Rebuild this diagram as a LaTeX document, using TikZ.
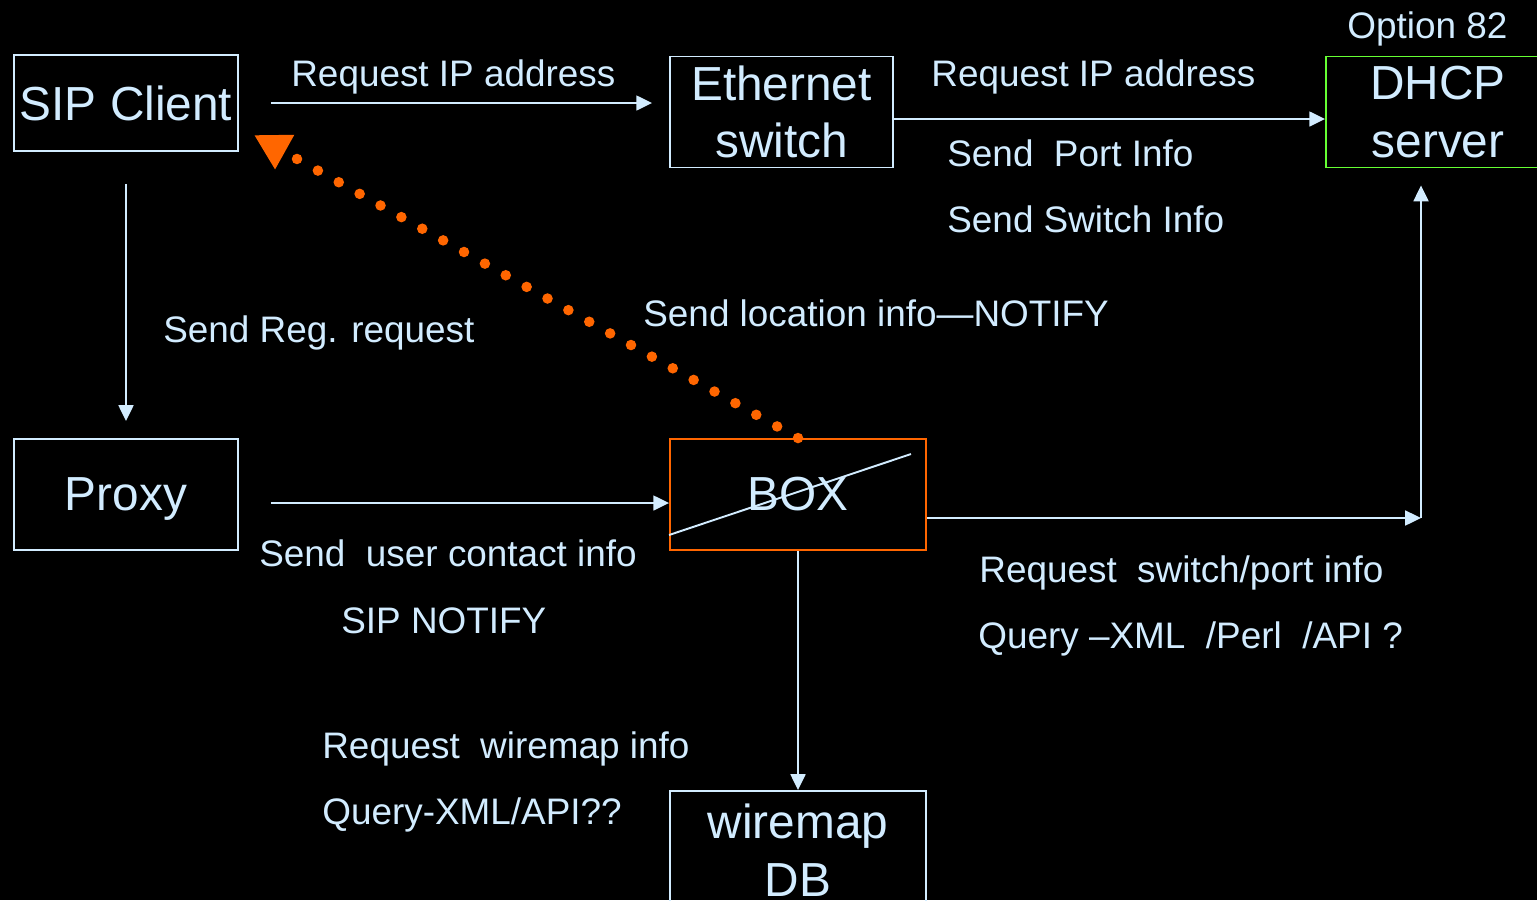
\documentclass[tikz,border=0pt]{standalone}
\usepackage{fontspec}
\setmainfont{Liberation Sans}
\usetikzlibrary{arrows.meta}
\definecolor{ice}{RGB}{210,236,255}
\definecolor{boxorange}{RGB}{255,102,0}
\definecolor{dhcpgreen}{RGB}{102,255,51}

\begin{document}
\begin{tikzpicture}[x=0.02cm,y=-0.02cm,
  unit/.style={draw=ice,line width=1.1pt,text=ice,align=center,inner sep=0pt,
    font=\fontsize{27.2}{32.9}\selectfont},
  msg/.style={text=ice,inner sep=0pt,anchor=base west,font=\fontsize{21}{25}\selectfont},
  flow/.style={draw=ice,line width=1.1pt,-{Triangle[length=9pt,width=8.5pt]}}]
\fill[black] (0,0) rectangle (1537,900);
\useasboundingbox (0,0) rectangle (1537,900);

% boxes
\node[unit,minimum width=4.48cm,minimum height=1.92cm,text depth=0pt] (sip) at (126,103) {SIP Client};
\node[unit,minimum width=4.46cm,minimum height=2.22cm] (eth) at (781.5,112) {Ethernet\\switch};
\node[unit,draw=dhcpgreen,minimum width=4.48cm,minimum height=2.22cm] (dhcp) at (1438,112) {DHCP\\server};
\node[unit,minimum width=4.48cm,minimum height=2.22cm,text depth=0pt] (proxy) at (126,494.5) {Proxy};
\node[unit,draw=boxorange,minimum width=5.12cm,minimum height=2.22cm] (box) at (798,494.5) {BOX};
\node[unit,minimum width=5.12cm,minimum height=2.36cm] (wiremap) at (798,850) {wiremap\\DB};
\coordinate (corner) at (1421,518);
\coordinate (tip) at (254,135);

% connectors
\draw[flow,shorten <=0.64cm,shorten >=0.34cm] (sip.east) -- (eth.west |- sip.east);
\draw[flow] ([yshift=-0.14cm]eth.east) -- ([yshift=-0.14cm]dhcp.west);
\draw[flow,shorten <=0.64cm,shorten >=0.34cm] (sip.south) -- (proxy.north);
\draw[flow,shorten <=0.64cm] ([yshift=-0.17cm]proxy.east) -- ([yshift=-0.17cm]box.west);
\draw[flow] (box.east |- corner) -- (corner);
\draw[flow,shorten >=0.34cm] (corner) -- (corner |- dhcp.south);
\draw[flow] (box.south) -- (wiremap.north);
\draw[ice,line width=1.1pt] ([yshift=-0.81cm]box.west) -- ([shift={(-0.32cm,-0.32cm)}]box.north east);
\draw[boxorange,line width=6pt,line cap=round,dash pattern=on 0pt off 13.6pt,
  -{Triangle[length=20pt,width=21pt]}] (box.north) -- (tip);

% labels
\node[msg] (opt) at (1347,38) {Option 82};
\node[msg] (reqip) at (291,86) {Request IP address};
\node[msg] (reqip2) at (931,86) {Request IP address};
\node[msg] (port) at (947,166) {Send~~Port Info};
\node[msg] (swinfo) at (947,232) {Send Switch Info};
\node[msg] (loc) at (643,326) {Send location info—NOTIFY};
\node[msg] (reg) at (163,342) {Send Reg. request};
\node[msg] (contact) at (259,566) {Send~~user contact info};
\node[msg] (notify) at (341,633) {SIP NOTIFY};
\node[msg] (reqsw) at (979,582) {Request~~switch/port info};
\node[msg] (query) at (978,648) {Query –XML~~/Perl~~/API ?};
\node[msg] (reqwm) at (322,758) {Request~~wiremap info};
\node[msg] (querywm) at (322,824) {Query-XML/API??};
\end{tikzpicture}
\end{document}
